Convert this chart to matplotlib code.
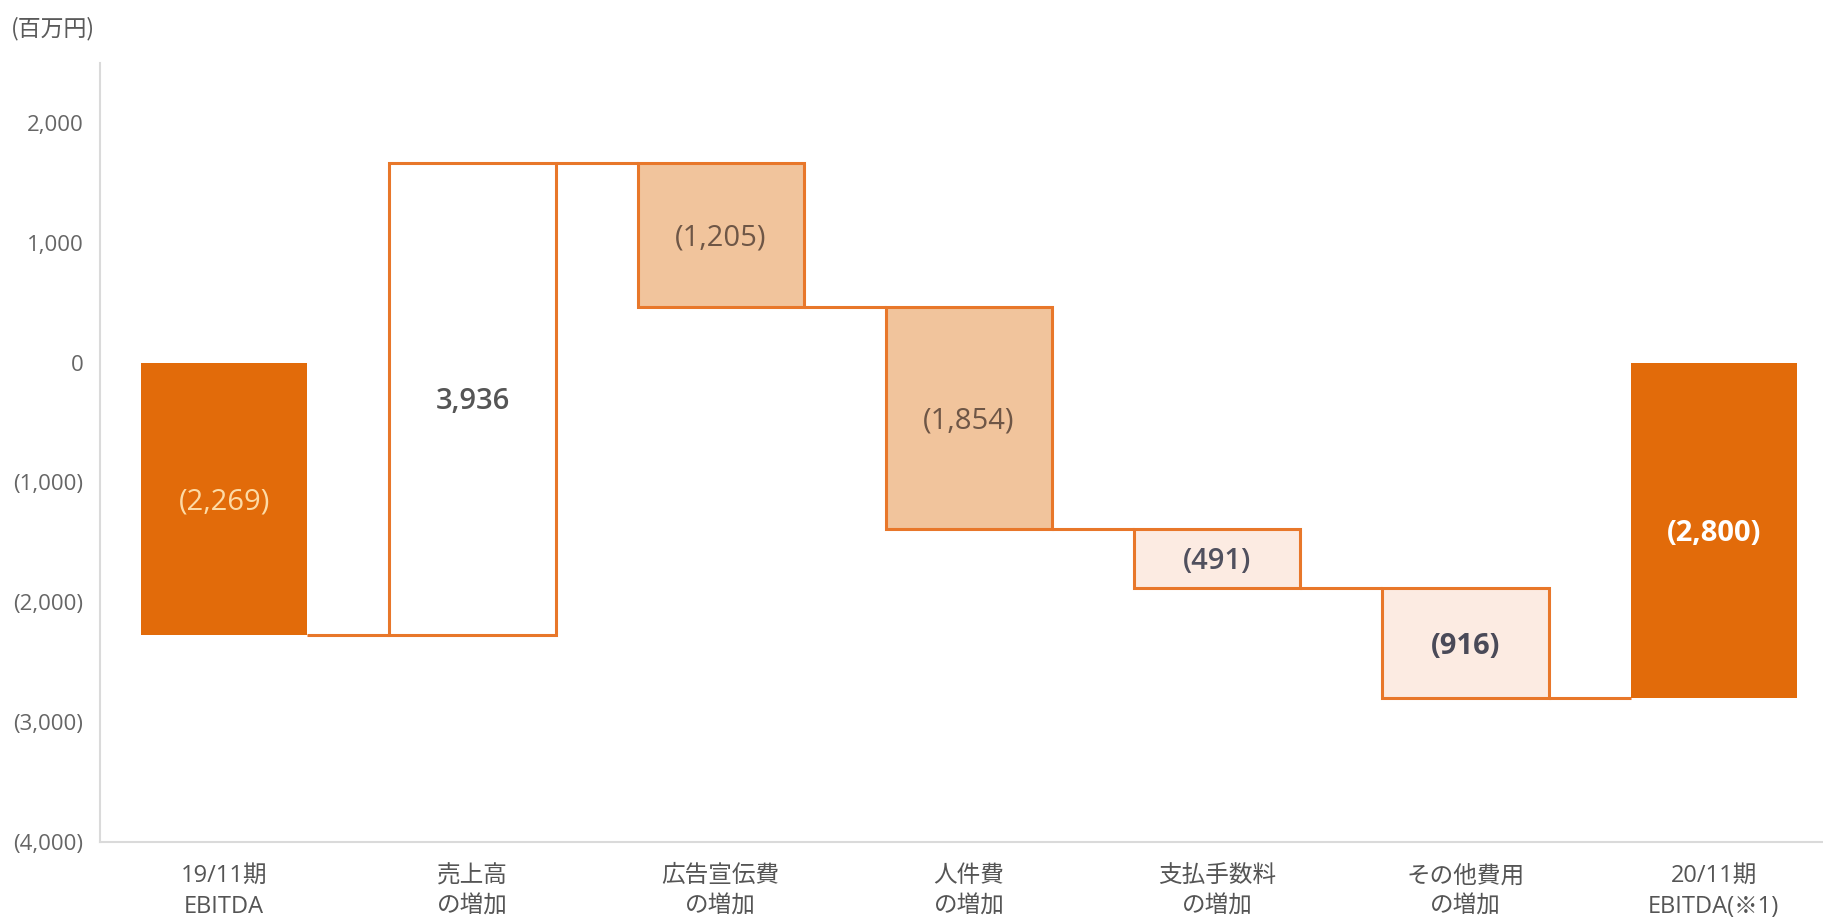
import numpy as np
import matplotlib
matplotlib.use("Agg")
import matplotlib.pyplot as plt
import matplotlib.transforms as mtransforms
from matplotlib.ticker import FuncFormatter, FixedLocator

plt.rcParams['font.family'] = ['Open Sans', 'Noto Sans CJK JP', 'DejaVu Sans']

# EBITDA bridge (百万円)
categories = ["19/11期\nEBITDA", "売上高\nの増加", "広告宣伝費\nの増加", "人件費\nの増加",
              "支払手数料\nの増加", "その他費用\nの増加", "20/11期\nEBITDA(※1)"]
start_value = -2269
changes = [3936, -1205, -1854, -491, -916]
end_value = -2800
y_ticks = [2000, 1000, 0, -1000, -2000, -3000, -4000]

EDGE = "#E8772A"
fills = ["#E26B0A", "#FFFFFF", "#F1C49C", "#F1C49C", "#FCEBE2", "#FCEBE2", "#E26B0A"]
text_colors = ["#FDDBA6", "#555555", "#6E5646", "#6E5646", "#50505E", "#4A4A58", "#FFFFFF"]
text_weights = ["normal", "semibold", "normal", "normal", "semibold", "bold", "bold"]

levels = np.concatenate([[start_value], start_value + np.cumsum(changes)])
bottoms = [0] + list(np.minimum(levels[:-1], levels[1:])) + [0]
heights = [start_value] + [abs(c) for c in changes] + [end_value]
values = [start_value] + changes + [end_value]

fig = plt.figure(figsize=(18.23, 9.18), dpi=100)
ax = fig.add_axes([0.0549, 0.0828, 0.9451, 0.8486])

# nudge value labels slightly downward inside the bars
label_shift = mtransforms.offset_copy(ax.transData, fig=fig, x=0, y=-3, units="dots")

x = np.arange(len(categories))
width = 0.67
n = len(categories)
for i in range(n):
    is_total = i in (0, n - 1)
    ax.bar(x[i], heights[i], bottom=bottoms[i], width=width, color=fills[i],
           edgecolor=fills[i] if is_total else EDGE,
           linewidth=0 if is_total else 2.2, zorder=3)
    mid = bottoms[i] + heights[i] / 2
    v = values[i]
    label = f"({abs(v):,})" if v < 0 else f"{v:,}"
    ax.text(x[i], mid, label, ha="center", va="center", fontsize=21,
            color=text_colors[i], fontweight=text_weights[i], zorder=4,
            transform=label_shift)

# connector lines between consecutive bars
for i in range(n - 1):
    lvl = levels[i] if i < len(levels) else end_value
    ax.plot([x[i] + width / 2, x[i + 1] - width / 2], [lvl, lvl], color=EDGE,
            linewidth=2.2, zorder=2, solid_capstyle="butt")

ax.set_xlim(-0.5, 6.44)
ax.set_ylim(-4000, 2500)
ax.yaxis.set_major_locator(FixedLocator(y_ticks))
ax.yaxis.set_major_formatter(FuncFormatter(
    lambda v, p: f"({abs(int(v)):,})" if v < 0 else f"{int(v):,}"))
ax.set_xticks(x)
ax.set_xticklabels(categories, fontsize=17, color="#555555", linespacing=1.38)
ax.tick_params(axis="y", length=0, pad=12, labelsize=16, labelcolor="#666666")
ax.tick_params(axis="x", length=0, pad=16)

for s in ("top", "right"):
    ax.spines[s].set_visible(False)
for s in ("left", "bottom"):
    ax.spines[s].set_color("#DADADA")
    ax.spines[s].set_linewidth(1.5)

fig.text(0.006, 0.969, "(百万円)", fontsize=16.5, color="#5A5A5A",
         ha="left", va="center", family=["Noto Sans CJK JP"])

fig.savefig("out.png", dpi=100, facecolor="white")
